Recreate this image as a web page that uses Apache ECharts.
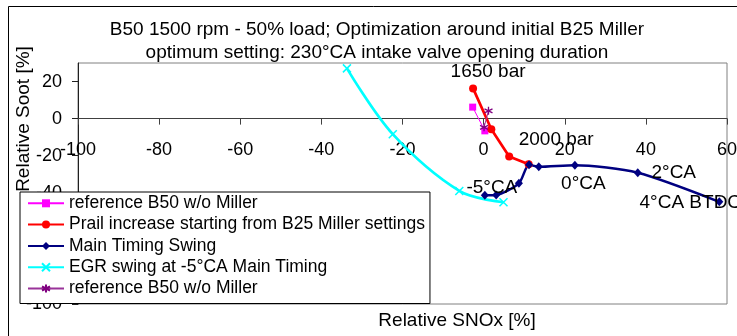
<!DOCTYPE html>
<html>
<head>
<meta charset="utf-8">
<script src="https://cdn.jsdelivr.net/npm/echarts@6/dist/echarts.min.js"></script>
<style>
html,body{margin:0;padding:0;background:#fff;}
#chart{width:737px;height:336px;}
</style>
</head>
<body>
<div id="chart"></div>
<script>
// ---- data ----
const titleLines = ['B50 1500 rpm - 50% load; Optimization around initial B25 Miller', 'optimum setting: 230°CA intake valve opening duration'];
const xAxisName = 'Relative SNOx [%]';
const yAxisName = 'Relative Soot [%]';

const seriesNames = [
  'reference B50 w/o Miller',
  'Prail increase starting from B25 Miller settings',
  'Main Timing Swing',
  'EGR swing at -5°CA Main Timing',
  'reference B50 w/o Miller '
];

const refSqX = [-2.7, 0.3];
const refSqY = [6.2, -6.6];

const prailX = [-2.6, 1.9, 6.3, 11.1];
const prailY = [16.3, -5.7, -20.4, -24.6];
const prailLabels = ['1650 bar', '', '2000 bar', ''];

const timingX = [0.3, 3.1, 8.7, 11.2, 13.6, 22.5, 38.0, 58.1];
const timingY = [-41.4, -41.2, -34.9, -24.9, -26.0, -25.1, -29.2, -44.9];
const timingLabels = ['-5°CA', '', '', '', '', '0°CA', '2°CA', '4°CA BTDC'];

const egrX = [-33.7, -22.4, -6.0, 4.9];
const egrY = [27.1, -8.4, -39.0, -45.1];

const refStarX = [1.2, 0.1];
const refStarY = [4.2, -4.7];

const xMin = -100, xMax = 60, xStep = 20;
const yMin = -100, yMax = 30, yStep = 20;

// ---- styles / layout ----
const FONT = 'Liberation Sans, Arial, sans-serif';
const W = 737, H = 336;
const G = { left: 78, right: 10, top: 63, bottom: 32 };
const gridH = H - G.top - G.bottom;
// move the x axis up so that it crosses the y axis at value 0
const xAxisOffset = -gridH * (0 - yMin) / (yMax - yMin);

const labelOffsets = {
  '1650 bar': [15, -17],
  '2000 bar': [47, -17],
  '-5°CA': [7, -8],
  '0°CA': [8.5, 19],
  '2°CA': [36, 0],
  '4°CA BTDC': [-29, 1]
};
const crossPath = 'path://M0,0 L10,10 M0,10 L10,0';
const starPath = 'path://M5,0 L5,10 M0.7,2.5 L9.3,7.5 M0.7,7.5 L9.3,2.5';

function pts(xs, ys, labels) {
  return xs.map((x, i) => {
    const d = { value: [x, ys[i]] };
    if (labels && labels[i]) {
      d.label = {
        show: true,
        formatter: labels[i],
        position: 'inside',
        offset: labelOffsets[labels[i]],
        align: 'center',
        verticalAlign: 'middle',
        color: '#000',
        fontSize: 19,
        fontFamily: FONT
      };
    }
    return d;
  });
}

const chart = echarts.init(document.getElementById('chart'), null, { renderer: 'canvas' });

chart.setOption({
  animation: false,
  backgroundColor: '#fff',
  textStyle: { fontFamily: FONT },
  grid: {
    left: G.left, right: G.right, top: G.top, bottom: G.bottom,
    containLabel: false, outerBoundsMode: 'none',
    show: true, borderColor: '#808080', borderWidth: 1, backgroundColor: 'transparent'
  },
  xAxis: {
    type: 'value', min: xMin, max: xMax, interval: xStep,
    position: 'bottom', offset: xAxisOffset,
    axisLine: { show: true, onZero: false, lineStyle: { color: '#404040', width: 1 } },
    axisTick: { show: true, length: 6, lineStyle: { color: '#404040' } },
    axisLabel: { margin: 22, fontSize: 18, color: '#000', fontFamily: FONT, hideOverlap: false },
    splitLine: { show: false }
  },
  yAxis: {
    type: 'value', min: yMin, max: yMax, interval: yStep,
    axisLine: { show: true, onZero: false, lineStyle: { color: '#202020', width: 1 } },
    axisTick: { show: true, length: 6, lineStyle: { color: '#202020' } },
    axisLabel: { margin: 16, fontSize: 18, color: '#000', fontFamily: FONT, showMaxLabel: false, hideOverlap: false },
    splitLine: { show: false }
  },
  legend: {
    orient: 'vertical',
    left: 20, top: 192,
    padding: [2.3, 5, 6, 7],
    itemWidth: 36, itemHeight: 10, itemGap: 3.3,
    backgroundColor: '#fff', borderColor: '#000', borderWidth: 1,
    textStyle: { fontSize: 17.5, color: '#000', fontFamily: FONT, lineHeight: 18 },
    data: seriesNames
  },
  graphic: [
    { type: 'rect', z: 100, silent: true, shape: { x: 8.5, y: 6.5, width: 740, height: 340 },
      style: { fill: 'none', stroke: '#000', lineWidth: 1 } },
    { type: 'text', z: 100, x: 377, y: 41.5,
      style: { text: titleLines.join('\n'), align: 'center', verticalAlign: 'middle', lineHeight: 23,
        font: '19px ' + FONT, fill: '#000' } },
    { type: 'text', z: 100, x: 457, y: 321,
      style: { text: xAxisName, align: 'center', verticalAlign: 'middle', font: '19px ' + FONT, fill: '#000' } },
    { type: 'text', z: 100, x: 24, y: 119, rotation: Math.PI / 2,
      style: { text: yAxisName, align: 'center', verticalAlign: 'middle', font: '19px ' + FONT, fill: '#000' } }
  ],
  series: [
    {
      name: seriesNames[0], type: 'line', data: pts(refSqX, refSqY),
      symbol: 'rect', symbolSize: 7,
      lineStyle: { color: '#FF00FF', width: 1 },
      itemStyle: { color: '#FF00FF' }
    },
    {
      name: seriesNames[1], type: 'line', data: pts(prailX, prailY, prailLabels),
      symbol: 'circle', symbolSize: 8,
      lineStyle: { color: '#FF0000', width: 2.7 },
      itemStyle: { color: '#FF0000' }
    },
    {
      name: seriesNames[2], type: 'line', data: pts(timingX, timingY, timingLabels),
      symbol: 'diamond', symbolSize: [8, 9], smooth: 0.25,
      lineStyle: { color: '#000080', width: 2.5 },
      itemStyle: { color: '#000080' }
    },
    {
      name: seriesNames[3], type: 'line', data: pts(egrX, egrY),
      symbol: crossPath, symbolSize: 8, smooth: 0.35,
      lineStyle: { color: '#00FFFF', width: 2.7 },
      itemStyle: { color: '#00FFFF', borderColor: '#00FFFF', borderWidth: 1.5 }
    },
    {
      name: seriesNames[4], type: 'line', data: pts(refStarX, refStarY),
      symbol: starPath, symbolSize: 8,
      lineStyle: { color: '#993399', width: 1 },
      itemStyle: { color: '#800080', borderColor: '#800080', borderWidth: 1.3 }
    }
  ]
});
</script>
</body>
</html>
